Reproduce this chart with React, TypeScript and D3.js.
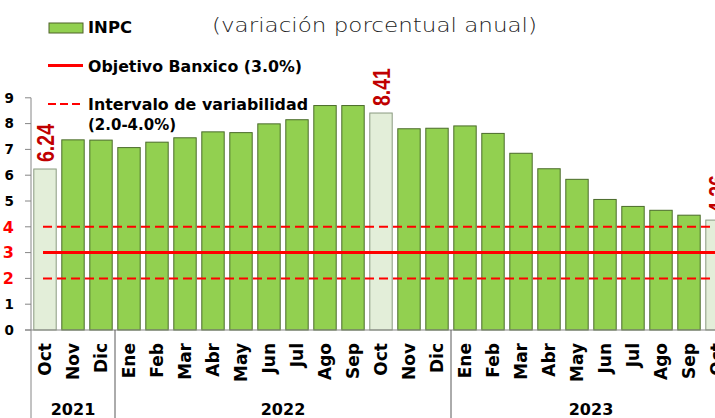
import React, { useEffect, useRef } from 'react';
import * as d3 from 'd3';

// Monthly INPC annual inflation (%), Oct 2021 - Oct 2023
const months = ['Oct', 'Nov', 'Dic', 'Ene', 'Feb', 'Mar', 'Abr', 'May', 'Jun', 'Jul', 'Ago', 'Sep', 'Oct', 'Nov', 'Dic',
  'Ene', 'Feb', 'Mar', 'Abr', 'May', 'Jun', 'Jul', 'Ago', 'Sep', 'Oct'];
const inpc = [6.24, 7.37, 7.36, 7.07, 7.28, 7.45, 7.68, 7.65, 7.99, 8.15, 8.70, 8.70, 8.41, 7.80, 7.82,
  7.91, 7.62, 6.85, 6.25, 5.84, 5.06, 4.79, 4.64, 4.45, 4.26];
const highlighted = [0, 12, 24]; // October bars with value labels
const years = [
  { label: '2021', from: 0, to: 2 },
  { label: '2022', from: 3, to: 14 },
  { label: '2023', from: 15, to: 24 },
];
const yTicks = [0, 1, 2, 3, 4, 5, 6, 7, 8, 9];
const target = 3.0;
const band = [2.0, 4.0];

const App = () => {
  const svgRef = useRef(null);

  useEffect(() => {
    const width = 715;
    const height = 418;
    const svg = d3.select(svgRef.current);
    svg.selectAll('*').remove();

    const idx = months.map((_, i) => i);
    const x = d3.scaleBand().domain(idx).range([31, 731]).paddingInner(0.2).paddingOuter(0.1);
    const y = d3.scaleLinear().domain([0, 9]).range([330, 97.8]);
    const step = x.step();
    const bandStart = (i) => x(i) - (step * 0.1);

    // bars
    svg.append('g')
      .selectAll('rect')
      .data(inpc)
      .join('rect')
      .attr('x', (d, i) => x(i))
      .attr('y', d => y(d))
      .attr('width', x.bandwidth())
      .attr('height', d => y(0) - y(d))
      .attr('fill', (d, i) => highlighted.includes(i) ? '#e3eed9' : '#92d050')
      .attr('stroke', (d, i) => highlighted.includes(i) ? '#8a9a80' : '#4a6b2a')
      .attr('stroke-width', 1);

    // reference lines
    const x0 = x(0) + x.bandwidth() / 2 - 2;
    svg.append('line')
      .attr('x1', x0).attr('x2', width)
      .attr('y1', y(target)).attr('y2', y(target))
      .attr('stroke', '#ff0000').attr('stroke-width', 3);
    band.forEach(v => {
      svg.append('line')
        .attr('x1', x0).attr('x2', width)
        .attr('y1', y(v)).attr('y2', y(v))
        .attr('stroke', '#ff0000').attr('stroke-width', 2)
        .attr('stroke-dasharray', '9,5');
    });

    // axes
    svg.append('line')
      .attr('x1', 31).attr('x2', 31).attr('y1', y(9)).attr('y2', height)
      .attr('stroke', '#868686');
    svg.append('line')
      .attr('x1', 25).attr('x2', width).attr('y1', y(0)).attr('y2', y(0))
      .attr('stroke', '#868686');
    svg.append('g')
      .selectAll('line')
      .data(yTicks)
      .join('line')
      .attr('x1', 25).attr('x2', 31)
      .attr('y1', d => y(d)).attr('y2', d => y(d))
      .attr('stroke', '#868686');
    svg.append('g')
      .selectAll('text')
      .data(yTicks)
      .join('text')
      .attr('x', 14)
      .attr('y', d => y(d))
      .attr('dy', '0.36em')
      .attr('text-anchor', 'end')
      .attr('font-family', 'DejaVu Sans')
      .attr('font-weight', 'bold')
      .attr('font-size', d => (d >= 2 && d <= 4) ? 16 : 13.5)
      .attr('fill', d => (d >= 2 && d <= 4) ? '#ff0000' : '#000')
      .text(d => d);

    // month labels
    svg.append('g')
      .selectAll('text')
      .data(months)
      .join('text')
      .attr('transform', (d, i) => `translate(${x(i) + x.bandwidth() / 2},343) rotate(-90)`)
      .attr('dy', '0.36em')
      .attr('text-anchor', 'end')
      .attr('font-family', 'DejaVu Sans')
      .attr('font-weight', 'bold')
      .attr('font-size', 17)
      .text(d => d);

    // year separators and labels
    years.forEach((yr, k) => {
      if (k > 0) {
        const sx = bandStart(yr.from);
        svg.append('line')
          .attr('x1', sx).attr('x2', sx).attr('y1', y(0)).attr('y2', height)
          .attr('stroke', '#595959');
      }
      const cx = (bandStart(yr.from) + bandStart(yr.to) + step) / 2;
      svg.append('text')
        .attr('x', cx).attr('y', 415)
        .attr('text-anchor', 'middle')
        .attr('font-family', 'DejaVu Sans')
        .attr('font-weight', 'bold')
        .attr('font-size', 16)
        .text(yr.label);
    });

    // value labels
    svg.append('g')
      .selectAll('text')
      .data(highlighted)
      .join('text')
      .attr('transform', i => `translate(${x(i) + x.bandwidth() / 2},${y(inpc[i]) - 7}) rotate(-90)`)
      .attr('dy', '0.36em')
      .attr('font-family', 'Liberation Sans')
      .attr('font-weight', 'bold')
      .attr('font-size', 24)
      .attr('textLength', 38)
      .attr('lengthAdjust', 'spacingAndGlyphs')
      .attr('fill', '#c00000')
      .text(i => inpc[i].toFixed(2));

    // legend
    svg.append('rect')
      .attr('x', 49).attr('y', 23).attr('width', 34).attr('height', 10)
      .attr('fill', '#92d050').attr('stroke', '#4f6228');
    svg.append('line')
      .attr('x1', 48).attr('x2', 83).attr('y1', 65.5).attr('y2', 65.5)
      .attr('stroke', '#ff0000').attr('stroke-width', 3);
    svg.append('line')
      .attr('x1', 48).attr('x2', 83).attr('y1', 104).attr('y2', 104)
      .attr('stroke', '#ff0000').attr('stroke-width', 2).attr('stroke-dasharray', '8,4');
    const legendText = [
      { t: 'INPC', y: 33, w: 44 },
      { t: 'Objetivo Banxico (3.0%)', y: 72, w: 214 },
      { t: 'Intervalo de variabilidad', y: 110, w: 220 },
      { t: '(2.0-4.0%)', y: 130, w: 88 },
    ];
    legendText.forEach(l => {
      svg.append('text')
        .attr('x', 88).attr('y', l.y)
        .attr('font-family', 'DejaVu Sans')
        .attr('font-weight', 'bold')
        .attr('font-size', 16.5)
        .attr('textLength', l.w)
        .attr('lengthAdjust', 'spacingAndGlyphs')
        .text(l.t);
    });

    svg.append('text')
      .attr('x', 212).attr('y', 32)
      .attr('font-family', 'DejaVu Sans')
      .attr('font-weight', 200)
      .attr('font-size', 19)
      .attr('fill', '#222')
      .attr('textLength', 325)
      .attr('lengthAdjust', 'spacingAndGlyphs')
      .text('(variación porcentual anual)');
  }, []);

  return (
    <svg ref={svgRef} width={715} height={418}
      style={{ position: 'absolute', left: 0, top: 0, background: '#fff' }} />
  );
};

export default App;
